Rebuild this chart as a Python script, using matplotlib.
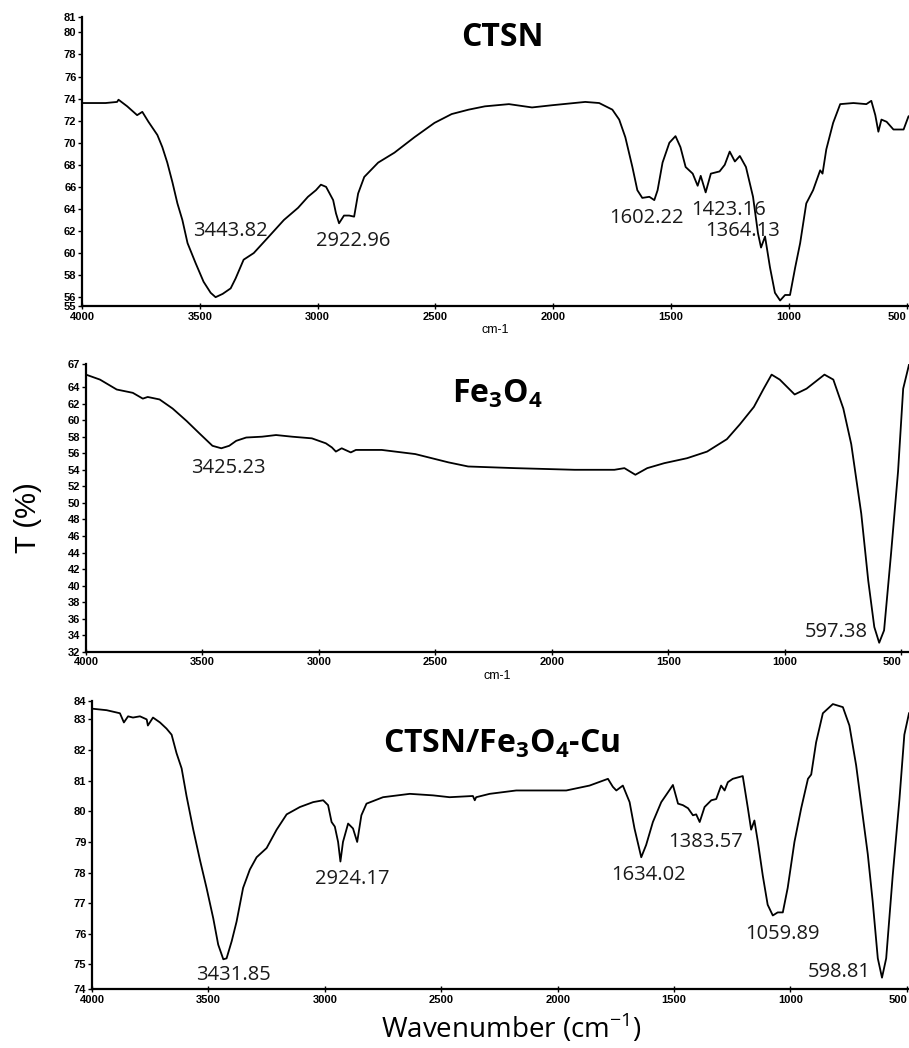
import matplotlib.pyplot as plt

plt.rcParams['mathtext.fontset'] = 'custom'
plt.rcParams['mathtext.rm'] = 'Open Sans'
plt.rcParams['mathtext.bf'] = 'Open Sans:bold'

# CTSN spectrum
ctsn_wn = [4000, 3900, 3851, 3845, 3808, 3766, 3744, 3718, 3680, 3659, 3638, 3616,
           3595, 3574, 3552, 3518, 3484, 3454, 3433, 3403, 3369, 3348, 3314, 3271,
           3211, 3143, 3083, 3041, 3007, 2986, 2964, 2934, 2922, 2909, 2888, 2866,
           2845, 2828, 2802, 2743, 2674, 2589, 2504, 2431, 2359, 2290, 2188, 2090,
           2005, 1864, 1805, 1749, 1720, 1694, 1664, 1643, 1622, 1592, 1571, 1557,
           1536, 1507, 1481, 1460, 1438, 1408, 1387, 1374, 1353, 1331, 1294, 1272,
           1251, 1229, 1208, 1182, 1152, 1131, 1118, 1101, 1080, 1059, 1037, 1016,
           995, 973, 952, 926, 897, 867, 857, 841, 812, 782, 726, 671, 650, 633,
           620, 607, 585, 556, 513, 492, 475]
ctsn_t = [73.6, 73.6, 73.7, 73.9, 73.3, 72.5, 72.8, 71.9, 70.7, 69.6, 68.2, 66.4,
          64.5, 63.0, 60.9, 59.1, 57.4, 56.4, 56.0, 56.3, 56.8, 57.7, 59.4, 60.0,
          61.4, 63.0, 64.1, 65.1, 65.7, 66.2, 66.0, 64.8, 63.6, 62.7, 63.4, 63.4,
          63.3, 65.4, 66.9, 68.2, 69.1, 70.5, 71.8, 72.6, 73.0, 73.3, 73.5, 73.2,
          73.4, 73.7, 73.6, 73.0, 72.1, 70.5, 67.8, 65.7, 65.0, 65.1, 64.8, 65.7,
          68.2, 70.0, 70.6, 69.6, 67.8, 67.2, 66.1, 67.0, 65.5, 67.2, 67.4, 68.0,
          69.2, 68.3, 68.8, 67.8, 65.1, 61.8, 60.5, 61.5, 58.7, 56.4, 55.7, 56.2,
          56.2, 58.7, 60.9, 64.5, 65.7, 67.5, 67.2, 69.4, 71.8, 73.5, 73.6, 73.5,
          73.8, 72.5, 71.0, 72.1, 71.9, 71.2, 71.2, 72.4, 72.5]

# Fe3O4 spectrum
fe_wn = [4000, 3940, 3868, 3799, 3756, 3735, 3684, 3628, 3568, 3513, 3457, 3419,
         3385, 3355, 3312, 3244, 3184, 3115, 3030, 2970, 2944, 2927, 2902, 2863,
         2841, 2730, 2586, 2444, 2359, 2158, 1902, 1731, 1688, 1641, 1590, 1517,
         1419, 1333, 1248, 1192, 1132, 1090, 1056, 1021, 957, 906, 829, 791, 748,
         714, 671, 641, 615, 594, 573, 543, 513, 491, 466]
fe_t = [65.5, 64.9, 63.7, 63.3, 62.6, 62.8, 62.5, 61.4, 59.9, 58.4, 56.9, 56.6,
        56.9, 57.5, 57.9, 58.0, 58.2, 58.0, 57.8, 57.2, 56.7, 56.2, 56.6, 56.1,
        56.4, 56.4, 55.9, 54.9, 54.4, 54.2, 54.0, 54.0, 54.2, 53.4, 54.2, 54.8,
        55.4, 56.2, 57.7, 59.5, 61.6, 63.8, 65.5, 64.9, 63.1, 63.8, 65.5, 64.9,
        61.4, 57.1, 48.7, 40.6, 35.0, 33.1, 34.6, 43.9, 53.8, 63.8, 66.7]

# CTSN/Fe3O4-Cu spectrum
cu_wn = [4000, 3937, 3880, 3863, 3845, 3824, 3794, 3765, 3760, 3738, 3708, 3680,
         3658, 3637, 3615, 3594, 3565, 3536, 3508, 3479, 3458, 3436, 3422, 3400,
         3379, 3351, 3322, 3293, 3250, 3207, 3164, 3107, 3050, 3007, 2986, 2971,
         2957, 2943, 2933, 2922, 2900, 2879, 2861, 2843, 2821, 2750, 2635, 2535,
         2464, 2364, 2356, 2350, 2292, 2178, 1963, 1863, 1784, 1763, 1748, 1720,
         1691, 1670, 1641, 1620, 1591, 1555, 1519, 1505, 1483, 1462, 1440, 1419,
         1405, 1390, 1369, 1340, 1319, 1298, 1283, 1269, 1248, 1205, 1183, 1169,
         1155, 1140, 1119, 1098, 1076, 1055, 1033, 1012, 983, 954, 925, 911, 890,
         861, 818, 775, 747, 718, 690, 668, 647, 625, 607, 589, 561, 532, 511, 491]
cu_t = [83.35, 83.3, 83.2, 82.9, 83.1, 83.06, 83.1, 83.0, 82.8, 83.06, 82.9, 82.7,
        82.5, 81.9, 81.4, 80.5, 79.4, 78.4, 77.5, 76.5, 75.65, 75.17, 75.2, 75.76,
        76.4, 77.5, 78.1, 78.5, 78.8, 79.4, 79.9, 80.14, 80.3, 80.36, 80.2, 79.65,
        79.5, 79.0, 78.36, 79.0, 79.6, 79.44, 79.0, 79.87, 80.25, 80.46, 80.57, 80.52,
        80.46, 80.5, 80.36, 80.46, 80.57, 80.68, 80.68, 80.84, 81.06, 80.8, 80.68, 80.84,
        80.3, 79.44, 78.5, 78.9, 79.65, 80.3, 80.7, 80.86, 80.25, 80.2, 80.1, 79.87,
        79.9, 79.65, 80.14, 80.36, 80.4, 80.84, 80.68, 80.95, 81.06, 81.15, 80.1, 79.4,
        79.7, 79.0, 77.9, 76.95, 76.6, 76.7, 76.7, 77.5, 79.0, 80.1, 81.06, 81.2, 82.25,
        83.2, 83.5, 83.4, 82.8, 81.5, 79.87, 78.6, 77.06, 75.2, 74.57, 75.2, 77.9, 80.4,
        82.5, 83.2]

xticks = [4000, 3500, 3000, 2500, 2000, 1500, 1000, 500]

ctsn_yticks = [55.2, 56, 58, 60, 62, 64, 66, 68, 70, 72, 74, 76, 78, 80, 81.4]
ctsn_ylabels = ['55', '56', '58', '60', '62', '64', '66', '68', '70', '72', '74',
                '76', '78', '80', '81']
fe_yticks = [32, 34, 36, 38, 40, 42, 44, 46, 48, 50, 52, 54, 56, 58, 60, 62, 64, 66.8]
fe_ylabels = ['32', '34', '36', '38', '40', '42', '44', '46', '48', '50', '52', '54',
              '56', '58', '60', '62', '64', '67']
cu_yticks = [74.2, 75, 76, 77, 78, 79, 80, 81, 82, 83, 83.6]
cu_ylabels = ['74', '75', '76', '77', '78', '79', '80', '81', '82', '83', '84']

ctsn_peaks = [('3443.82', 3371, 62.0), ('2922.96', 2847, 61.1), ('1602.22', 1606, 63.2),
              ('1423.16', 1257, 63.9), ('1364.13', 1195, 62.0)]
fe_peaks = [('3425.23', 3387, 54.2), ('597.38', 780, 34.4)]
cu_peaks = [('3431.85', 3391, 74.67), ('2924.17', 2882, 77.78), ('1634.02', 1611, 77.93),
            ('1383.57', 1363, 79.0), ('1059.89', 1034, 76.0), ('598.81', 790, 74.75)]

fig = plt.figure(figsize=(9.09, 10.48), dpi=100)

panels = [
    ([0.0902, 0.708, 0.9098, 0.2758], ctsn_wn, ctsn_t, (4000, 490), ctsn_yticks, ctsn_ylabels, ctsn_peaks, True),
    ([0.0946, 0.378, 0.9054, 0.2748], fe_wn, fe_t, (4000, 466), fe_yticks, fe_ylabels, fe_peaks, True),
    ([0.1012, 0.0563, 0.8988, 0.2748], cu_wn, cu_t, (4000, 491), cu_yticks, cu_ylabels, cu_peaks, False),
]

for rect, wn, t, xl, yt, yl, peaks, cm in panels:
    ax = fig.add_axes(rect)
    ax.plot(wn, t, color='black', lw=1.3)
    ax.set_xlim(*xl)
    ax.set_ylim(yt[0], yt[-1])
    ax.set_xticks(xticks)
    ax.set_xticklabels([str(v) for v in xticks], fontfamily='Liberation Sans',
                       fontweight='bold', fontsize=8)
    # last label sits at the right edge of the figure
    ax.get_xticklabels()[-1].set_horizontalalignment('right')
    ax.set_yticks(yt)
    ax.set_yticklabels(yl, fontfamily='Liberation Sans', fontweight='bold', fontsize=8)
    ax.tick_params(axis='y', direction='out', length=3, width=1, pad=1)
    ax.tick_params(axis='x', direction='inout', length=4, width=1, pad=2)
    for s in ['top', 'right']:
        ax.spines[s].set_visible(False)
    for s in ['left', 'bottom']:
        ax.spines[s].set_linewidth(1.6)
    for label, x, y in peaks:
        ax.text(x, y, label, fontfamily='Open Sans', fontsize=14.5,
                ha='center', va='center', color='#1a1a1a')
    if cm:
        ax.set_xlabel('cm-1', fontfamily='Liberation Sans', fontsize=9, labelpad=2)

fig.text(0.553, 0.964, 'CTSN', fontfamily='Open Sans', fontweight='bold',
         fontsize=23, ha='center', va='center')
fig.text(0.547, 0.624, r'Fe$_\mathbf{3}$O$_\mathbf{4}$', fontfamily='Open Sans',
         fontweight='bold', fontsize=23, ha='center', va='center')
fig.text(0.552, 0.290, r'CTSN/Fe$_\mathbf{3}$O$_\mathbf{4}$-Cu', fontfamily='Open Sans',
         fontweight='bold', fontsize=23, ha='center', va='center')

fig.text(0.031, 0.506, 'T (%)', fontfamily='Liberation Sans', fontsize=21,
         rotation=90, ha='center', va='center')
fig.text(0.563, 0.019, r'Wavenumber (cm$^{-1}$)', fontfamily='Open Sans',
         fontsize=20, ha='center', va='center')

fig.savefig('out.png', dpi=100)
